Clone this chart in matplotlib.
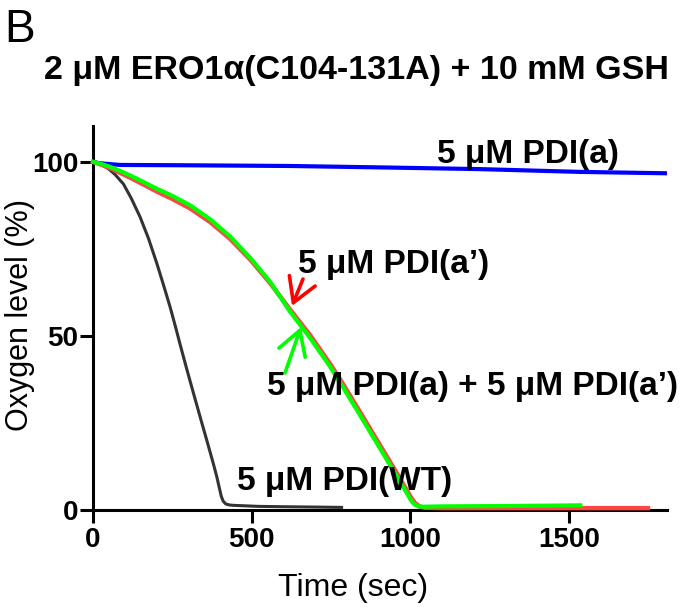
import matplotlib
matplotlib.use("Agg")
import matplotlib.pyplot as plt
from matplotlib.patches import ArrowStyle

plt.rcParams['font.family'] = ['Liberation Sans', 'DejaVu Sans']

# ---- data ----
t_wt = [0, 16, 32, 50, 70, 96, 120, 148, 175, 201, 222, 243, 260, 274, 295, 316, 340, 360,
        379, 390, 398, 404, 410, 418, 430, 442, 520, 600, 700, 783]
y_wt = [100, 99.7, 99.0, 97.9, 96.3, 93.6, 89.6, 84.2, 77.9, 70.8, 64.6, 58.2, 52.5, 47.6,
        40.5, 33.6, 25.8, 19.4, 13.2, 9.4, 6.2, 3.8, 2.4, 1.6, 1.3, 1.2, 0.9, 0.8, 0.7, 0.6]

t_a = [0, 20, 85, 300, 620, 900, 1219, 1534, 1808]
y_a = [100, 99.6, 99.1, 99.0, 98.8, 98.4, 97.9, 97.1, 96.7]

t_ap = [0, 25, 53, 100, 148, 200, 250, 306, 370, 431, 495, 557, 620, 685, 746, 778, 840,
        904, 950, 988, 1002, 1015, 1030, 1045, 1100, 1300, 1500, 1748]
y_ap = [100, 99.2, 98.2, 96.2, 94.0, 91.5, 89.3, 86.6, 82.6, 77.9, 71.9, 65.2, 57.6, 50.0,
        42.0, 37.5, 28.2, 18.5, 11.5, 5.6, 3.4, 1.8, 0.8, 0.5, 0.4, 0.4, 0.4, 0.4]

t_mix = [0, 25, 53, 100, 148, 200, 250, 306, 370, 431, 495, 557, 620, 685, 746, 778, 840,
         904, 950, 988, 1002, 1012, 1025, 1040, 1100, 1300, 1535]
y_mix = [100, 99.4, 98.6, 96.8, 94.7, 92.3, 90.2, 87.5, 83.4, 78.6, 72.4, 65.6, 57.0, 49.2,
         41.2, 36.6, 27.3, 17.6, 10.6, 4.8, 2.6, 1.5, 0.9, 0.8, 0.9, 1.0, 1.2]

x_ticks = [0, 500, 1000, 1500]
y_ticks = [0, 50, 100]

title = "2 \u03bcM ERO1\u03b1(C104-131A) + 10 mM GSH"
lab_a = "5 \u03bcM PDI(a)"
lab_ap = "5 \u03bcM PDI(a\u2019)"
lab_mix = "5 \u03bcM PDI(a) + 5 \u03bcM PDI(a\u2019)"
lab_wt = "5 \u03bcM PDI(WT)"

W, H = 683, 608
fig = plt.figure(figsize=(W / 100, H / 100), dpi=100)
ax = fig.add_axes([93 / W, 1 - 509.5 / H, (667 - 93) / W, (509.5 - 126) / H])

ax.plot(t_a, y_a, color='#0000ff', lw=3.0, solid_capstyle='butt', clip_on=False, zorder=3)
ax.plot(t_wt, y_wt, color='#333333', lw=2.2, clip_on=False, zorder=3)
ax.plot(t_ap, y_ap, color='#ff4444', lw=3.2, clip_on=False, zorder=3)
ax.plot(t_mix, y_mix, color='#00ff00', lw=3.0, clip_on=False, zorder=4)

ax.set_xlim(0, 1808)
ax.set_ylim(0, 110.3)
ax.set_xticks(x_ticks)
ax.set_yticks(y_ticks)
for s in ['top', 'right']:
    ax.spines[s].set_visible(False)
for s in ['left', 'bottom']:
    ax.spines[s].set_linewidth(2.2)
ax.tick_params(direction='out', length=9.4, width=2.2, labelsize=20, pad=3)
for lbl in ax.get_xticklabels() + ax.get_yticklabels():
    lbl.set_fontweight('bold')
ax.tick_params(axis='y', pad=1)

# y label: anchor is the bottom (descender side) of the rotated text
ax.set_ylabel("Oxygen level (%)", fontsize=22)
ax.yaxis.set_label_coords((35 - 93) / (667 - 93), 0.507)
fig.text(353 / W, 1 - 588 / H, "Time (sec)", fontsize=23, ha='center', va='center')

fig.text(356 / W, 1 - 70 / H, title, fontsize=24.5, fontweight='bold', ha='center', va='center')
fig.text(4 / W, 1 - 30 / H, "B", fontsize=33, ha='left', va='center')

def fp(x, y):
    return (x, H - y)

for txt, (px, py) in [(lab_a, (437, 163)), (lab_ap, (298, 273)),
                      (lab_mix, (267, 395)), (lab_wt, (237, 490))]:
    ax.annotate(txt, xy=fp(px, py), xycoords='figure pixels', fontsize=24,
                fontweight='bold', ha='left', va='baseline', zorder=5)

style = ArrowStyle('->', head_length=0.85, head_width=0.5)
ax.annotate('', xy=fp(292, 306), xycoords='figure pixels', xytext=fp(303, 279),
            textcoords='figure pixels',
            arrowprops=dict(arrowstyle=style, color='#ff0000', lw=2.6,
                            shrinkA=0, shrinkB=0, mutation_scale=20))
ax.annotate('', xy=fp(301, 327), xycoords='figure pixels', xytext=fp(285, 373),
            textcoords='figure pixels',
            arrowprops=dict(arrowstyle=style, color='#00ff00', lw=2.6,
                            shrinkA=0, shrinkB=0, mutation_scale=20))

fig.savefig("out.png", dpi=100)
